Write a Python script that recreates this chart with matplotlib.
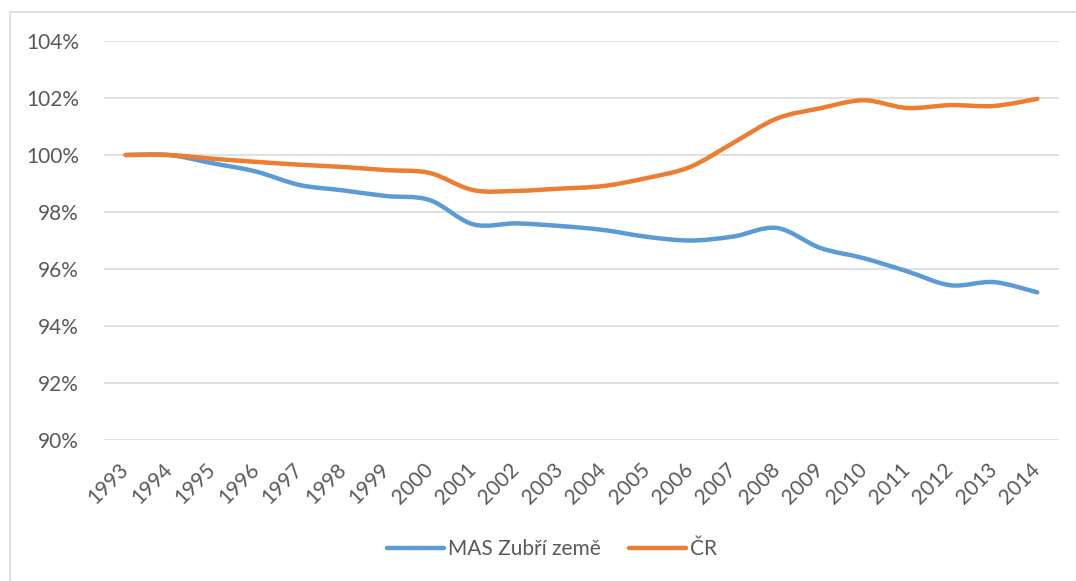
import matplotlib
matplotlib.use("Agg")
import matplotlib.pyplot as plt
from matplotlib.path import Path
from matplotlib.patches import PathPatch, Rectangle
from matplotlib.lines import Line2D
from matplotlib.ticker import FuncFormatter
import numpy as np

plt.rcParams['font.family'] = ['Lato', 'DejaVu Sans']

years = list(range(1993, 2015))
mas = [100.0, 100.0, 99.71, 99.42, 98.95, 98.76, 98.56, 98.42, 97.57, 97.60, 97.51,
       97.37, 97.13, 97.00, 97.14, 97.44, 96.74, 96.38, 95.92, 95.43, 95.54, 95.18]
cr = [100.0, 100.0, 99.87, 99.76, 99.66, 99.58, 99.47, 99.37, 98.77, 98.74, 98.82,
      98.91, 99.19, 99.58, 100.43, 101.28, 101.64, 101.92, 101.65, 101.75, 101.72, 101.97]
labels = ["MAS Zubří země", "ČR"]
colors = ["#5B9BD5", "#ED7D31"]
text_col = "#595959"
grid_col = "#D9D9D9"


def smooth_path(xs, ys):
    # Excel style smoothed line: cubic bezier through every point
    p = np.column_stack([xs, ys]).astype(float)
    n = len(p)
    verts = [p[0]]
    codes = [Path.MOVETO]
    for i in range(n - 1):
        prev = p[i - 1] if i > 0 else p[i]
        nxt = p[i + 2] if i + 2 < n else p[i + 1]
        c1 = p[i] + (p[i + 1] - prev) / 6
        c2 = p[i + 1] - (nxt - p[i]) / 6
        verts += [c1, c2, p[i + 1]]
        codes += [Path.CURVE4] * 3
    return Path(verts, codes)


fig = plt.figure(figsize=(10.76, 5.81), dpi=100)
ax = fig.add_axes([104 / 1076, 1 - 440 / 581, 955 / 1076, 399 / 581])

x = np.arange(len(years))
for vals, col in zip([mas, cr], colors):
    patch = PathPatch(smooth_path(x, vals), fill=False, edgecolor=col,
                      lw=3.2, capstyle='round', joinstyle='round', zorder=3)
    ax.add_patch(patch)

ax.set_xlim(-0.5, len(years) - 0.5)
ax.set_ylim(90, 104)
ax.set_yticks(np.arange(90, 105, 2))
ax.yaxis.set_major_formatter(FuncFormatter(lambda v, pos: f"{v:.0f}%"))
ax.set_xticks(x)
ax.set_xticklabels([str(y) for y in years], rotation=45, ha='right',
                   rotation_mode='anchor', va='center')
ax.grid(axis='y', color=grid_col, lw=1.1)
ax.set_axisbelow(True)
for s in ax.spines.values():
    s.set_visible(False)
ax.tick_params(axis='both', length=0, labelsize=15, labelcolor=text_col)
ax.tick_params(axis='y', pad=18)
ax.tick_params(axis='x', pad=19)

handles = [Line2D([], [], color=c, lw=3.2, solid_capstyle='round') for c in colors]
fig.legend(handles, labels, loc='center', bbox_to_anchor=(552 / 1076, 1 - 549 / 581),
           ncol=2, frameon=False, fontsize=15, labelcolor=text_col,
           handlelength=2.75, handletextpad=0.2, columnspacing=1.35)

fig.patches.append(Rectangle((10 / 1076, -0.1), 1.2, 1.1 - 12.5 / 581,
                             transform=fig.transFigure, fill=False,
                             edgecolor=grid_col, lw=1.1, clip_on=False))

fig.savefig("out.png", dpi=100)
